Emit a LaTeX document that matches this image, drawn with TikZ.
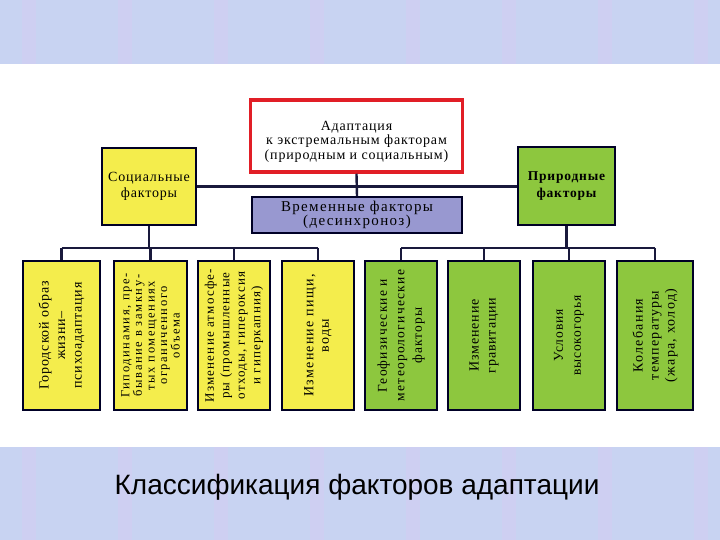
\documentclass[tikz,border=0pt]{standalone}
\usepackage{fontspec}
\setmainfont{Liberation Serif}
\newfontfamily\titlefont{Liberation Sans}
\newfontfamily\lsA[LetterSpace=6]{Liberation Serif}
\newfontfamily\lsB[LetterSpace=9]{Liberation Serif}
\newfontfamily\lsC[LetterSpace=13]{Liberation Serif}
\definecolor{bandc}{RGB}{200,211,242}
\definecolor{bandstripe}{RGB}{206,207,242}
\definecolor{boxyellow}{RGB}{244,237,76}
\definecolor{boxgreen}{RGB}{141,199,62}
\definecolor{boxpurple}{RGB}{152,152,208}
\definecolor{redc}{RGB}{225,30,38}
\definecolor{linec}{RGB}{25,25,60}
\begin{document}
\begin{tikzpicture}[x=1pt,y=-1pt,
  box/.style={draw=black!85!blue, line width=1.6pt, inner sep=1pt, align=center,
    font=\lsA\fontsize{14}{15}\selectfont},
  ybox/.style={box, fill=boxyellow},
  gbox/.style={box, fill=boxgreen},
  vbox/.style={rotate=90, minimum width=149pt},
  link/.style={draw=linec, line width=2.4pt}
]
\useasboundingbox (0,0) rectangle (720,540);
\fill[bandc] (0,0) rectangle (720,64);
\fill[bandc] (0,447) rectangle (720,540);
\foreach \sx in {22,118,214,310,406,502,598,694} {
  \fill[bandstripe] (\sx,0) rectangle ++(14,64);
  \fill[bandstripe] (\sx,447) rectangle ++(14,93);
}

% top
\node[box, fill=white, draw=redc, line width=3.5pt, minimum width=212pt, minimum height=72pt,
  font=\lsA\fontsize{14}{14.5}\selectfont] (top) at (356.5,136)
  {\rule{0pt}{20pt}Адаптация\\к экстремальным факторам\\(природным и социальным)};
\node[ybox, minimum width=94pt, minimum height=77pt, font=\lsA\fontsize{14}{16}\selectfont] (soc) at (149,186.5)
  {Социальные\\факторы};
\node[gbox, minimum width=97pt, minimum height=78pt, font=\lsA\bfseries\fontsize{13.5}{17}\selectfont] (nat) at (566.5,186)
  {Природные\\факторы};
\node[box, fill=boxpurple, minimum width=210pt, minimum height=36pt, font=\lsB\fontsize{15}{14}\selectfont] (time) at (357,215)
  {Временные факторы\\(десинхроноз)};

% bottom boxes
\node[ybox, vbox, minimum height=77pt, font=\lsA\fontsize{14}{16.5}\selectfont] (b1) at (61.5,335.5)
  {Городской образ\\жизни–\\психоадаптация};
\node[ybox, vbox, minimum height=73pt, font=\lsC\fontsize{12.5}{12.6}\selectfont] (b2) at (150.5,335.5)
  {Гиподинамия, пре-\\бывание в замкну-\\тых помещениях\\ограниченного\\объема};
\node[ybox, vbox, minimum height=72pt, font=\lsB\fontsize{13}{15.5}\selectfont] (b3) at (234,335.5)
  {Изменение атмосфе-\\ры (промышленные\\отходы, гипероксия\\и гиперкапния)};
\node[ybox, vbox, minimum height=72pt, font=\lsB\fontsize{14}{15.5}\selectfont] (b4) at (318,335.5)
  {Изменение пищи,\\воды};
\node[gbox, vbox, minimum height=72pt, font=\lsB\fontsize{13.5}{17.5}\selectfont] (b5) at (401,335.5)
  {Геофизические и\\метеорологические\\факторы};
\node[gbox, vbox, minimum height=72pt, font=\lsA\fontsize{14}{17}\selectfont] (b6) at (484,335.5)
  {Изменение\\гравитации};
\node[gbox, vbox, minimum height=72pt, font=\lsA\fontsize{13.5}{18}\selectfont] (b7) at (569,335.5)
  {Условия\\высокогорья};
\node[gbox, vbox, minimum height=76pt, font=\lsB\fontsize{14}{16}\selectfont] (b8) at (655,335.5)
  {Колебания\\температуры\\(жара, холод)};

% connectors
\draw[link] (soc.east) -- (soc.east -| nat.west);
\draw[link] (top.south) -- (time.north);
\path (soc.south) ++(0,22) coordinate (sb);
\path (nat.south) ++(0,22) coordinate (nb);
\draw[link] (soc.south) -- (sb);
\draw[link] (nat.south) -- (nb);
\draw[link] (b1.east |- sb) -- (b4.east |- sb);
\draw[link] (b5.east |- nb) -- (b8.east |- nb);
\foreach \b in {b1,b2,b3,b4} \draw[link] (\b.east |- sb) -- (\b.east);
\foreach \b in {b5,b6,b7,b8} \draw[link] (\b.east |- nb) -- (\b.east);

% title
\node[font=\titlefont\fontsize{28}{32}\selectfont, text=black] (title) at (357,487)
  {Классификация факторов адаптации};
\end{tikzpicture}
\end{document}
